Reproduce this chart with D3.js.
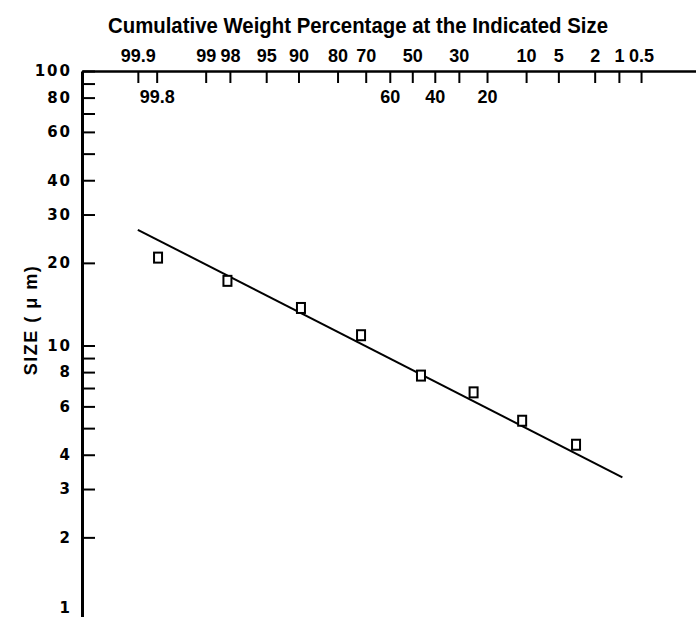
<!DOCTYPE html>
<html>
<head>
<meta charset="utf-8">
<script src="https://cdn.jsdelivr.net/npm/d3@7"></script>
<style>
  body { margin: 0; background: #fff; }
</style>
</head>
<body>
<div id="chart"></div>
<script>
// Values
const topPct = [99.9, 99, 98, 95, 90, 80, 70, 50, 30, 10, 5, 2, 1, 0.5];
const insidePct = [99.8, 60, 40, 20];
const sizeTicks = [100, 90, 80, 70, 60, 50, 40, 30, 20, 10, 9, 8, 7, 6, 5, 4, 3, 2, 1];
const sizeLabels = [100, 80, 60, 40, 30, 20, 10, 8, 6, 4, 3, 2, 1];
const pointPct = [99.79, 98.13, 89.5, 71.8, 46.1, 24.5, 10.8, 3.26];
const pointSize = [20.9, 17.2, 13.7, 10.9, 7.77, 6.75, 5.32, 4.35];
const linePct = [99.9, 0.9];
const lineSize = [26.4, 3.31];

// inverse normal CDF (Acklam) for the probability axis
function probit(p) {
    const a = [-39.69683028665376, 220.9460984245205, -275.9285104469687, 138.3577518672690, -30.66479806614716, 2.506628277459239];
    const b = [-54.47609879822406, 161.5858368580409, -155.6989798598866, 66.80131188771972, -13.28068155288572];
    const c = [-0.007784894002430293, -0.3223964580411365, -2.400758277161838, -2.549732539343734, 4.374664141464968, 2.938163982698783];
    const d = [0.007784695709041462, 0.3224671290700398, 2.445134137142996, 3.754408661907416];
    const pl = 0.02425;
    let q, r;
    if (p < pl) {
        q = Math.sqrt(-2 * Math.log(p));
        return (((((c[0]*q+c[1])*q+c[2])*q+c[3])*q+c[4])*q+c[5]) / ((((d[0]*q+d[1])*q+d[2])*q+d[3])*q+1);
    }
    if (p > 1 - pl) {
        q = Math.sqrt(-2 * Math.log(1 - p));
        return -(((((c[0]*q+c[1])*q+c[2])*q+c[3])*q+c[4])*q+c[5]) / ((((d[0]*q+d[1])*q+d[2])*q+d[3])*q+1);
    }
    q = p - 0.5; r = q * q;
    return (((((a[0]*r+a[1])*r+a[2])*r+a[3])*r+a[4])*r+a[5])*q / (((((b[0]*r+b[1])*r+b[2])*r+b[3])*r+b[4])*r+1);
}
const z = p => probit(p / 100);

const margin = {top: 71, right: 0, bottom: -3, left: 82};
const width = 696 - margin.left - margin.right;
const height = 617 - margin.top - margin.bottom;

const svg = d3.select("#chart")
    .append("svg")
    .attr("width", 696)
    .attr("height", 617);

const g = svg.append("g")
    .attr("transform", `translate(${margin.left},${margin.top})`);

// scales
const x = d3.scaleLinear()
    .domain([z(99.99), z(0.07)])
    .range([0, width]);

const y = d3.scaleLog()
    .domain([1, 100])
    .range([height, 0]);

// title
svg.append("text")
    .attr("x", 108)
    .attr("y", 33)
    .attr("textLength", 500)
    .attr("lengthAdjust", "spacingAndGlyphs")
    .style("font-family", "'Liberation Sans', Arial, sans-serif")
    .style("font-weight", "bold")
    .style("font-size", "22px")
    .text("Cumulative Weight Percentage at  the Indicated Size");

// top axis, labels above
const topAxis = g.append("g")
    .call(d3.axisTop(x)
        .tickValues(topPct.map(z))
        .tickFormat((d, i) => topPct[i])
        .tickSizeInner(-12)
        .tickSizeOuter(0)
        .tickPadding(9));

// extra labels under the axis
const innerAxis = g.append("g")
    .call(d3.axisBottom(x)
        .tickValues(insidePct.map(z))
        .tickFormat((d, i) => insidePct[i])
        .tickSizeInner(12)
        .tickSizeOuter(0)
        .tickPadding(7));
innerAxis.select(".domain").remove();

[topAxis, innerAxis].forEach(a => {
    a.selectAll("text")
        .style("font-family", "'Liberation Sans', Arial, sans-serif")
        .style("font-weight", "bold")
        .style("font-size", "18px")
        .attr("fill", "#000");
    a.selectAll("line").attr("stroke", "#000").attr("stroke-width", 2);
});
topAxis.select(".domain").attr("stroke", "#000").attr("stroke-width", 2.5);

// left axis
const leftAxis = g.append("g")
    .call(d3.axisLeft(y)
        .tickValues(sizeTicks)
        .tickFormat(d => sizeLabels.includes(d) ? d : "")
        .tickSizeInner(-13)
        .tickSizeOuter(0)
        .tickPadding(10));
leftAxis.selectAll("text")
    .style("font-family", "'DejaVu Sans', sans-serif")
    .style("font-weight", "bold")
    .style("font-size", "15px")
    .style("letter-spacing", "2px")
    .attr("fill", "#000");
// the bottom "1" sits higher so it stays on the page
leftAxis.selectAll(".tick")
    .filter(d => d === 1)
    .select("text")
    .attr("dy", "-0.5em");
leftAxis.selectAll("line").attr("stroke", "#000").attr("stroke-width", 2);
leftAxis.select(".domain").attr("stroke", "#000").attr("stroke-width", 3);

// y label
svg.append("text")
    .attr("transform", `translate(37,320)rotate(-90)`)
    .attr("text-anchor", "middle")
    .style("font-family", "'Liberation Sans', Arial, sans-serif")
    .style("font-weight", "bold")
    .style("font-size", "18px")
    .style("letter-spacing", "1.5px")
    .text("SIZE ( μ m)");

// fitted line
const lineData = linePct.map((p, i) => [p, lineSize[i]]);
g.append("path")
    .datum(lineData)
    .attr("fill", "none")
    .attr("stroke", "#000")
    .attr("stroke-width", 2)
    .attr("d", d3.line().x(d => x(z(d[0]))).y(d => y(d[1])));

// data points
const points = pointPct.map((p, i) => ({pct: p, size: pointSize[i]}));
g.append("g")
    .selectAll("rect")
    .data(points)
    .join("rect")
    .attr("x", d => x(z(d.pct)) - 4)
    .attr("y", d => y(d.size) - 5)
    .attr("width", 8)
    .attr("height", 10)
    .attr("fill", "#fff")
    .attr("stroke", "#000")
    .attr("stroke-width", 2);
</script>
</body>
</html>
